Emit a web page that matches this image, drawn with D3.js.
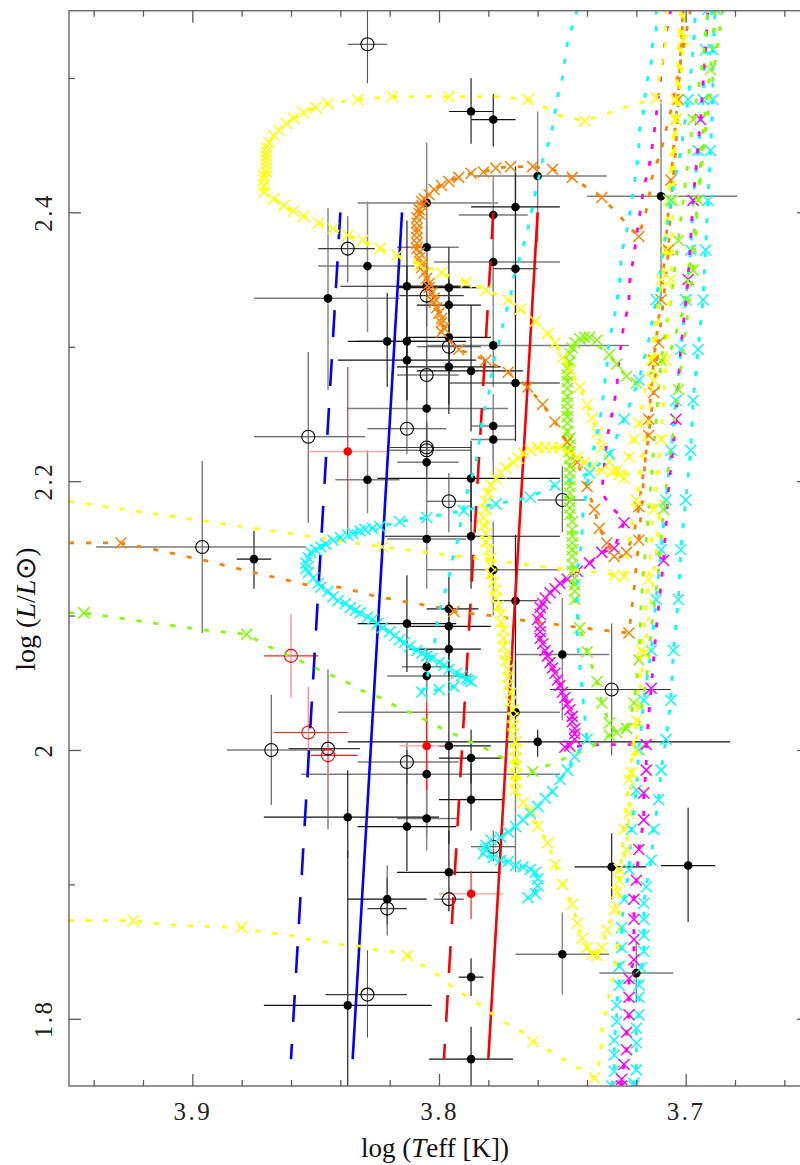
<!DOCTYPE html>
<html><head><meta charset="utf-8">
<script src="https://cdn.jsdelivr.net/npm/d3@7"></script>
<style>body{margin:0;background:#fff}</style>
</head><body>
<svg id="c" width="800" height="1165" xmlns="http://www.w3.org/2000/svg"></svg>
<script>
// ---------- axis ticks ----------
const xTicksMajor = [3.9, 3.8, 3.7];
const xTickLabels = ["3.9", "3.8", "3.7"];
const xTicksMinor = [3.94, 3.92, 3.88, 3.86, 3.84, 3.82, 3.78, 3.76, 3.74, 3.72, 3.68, 3.66];
const yTicksMajor = [1.8, 2.0, 2.2, 2.4];
const yTickLabels = ["1.8", "2", "2.2", "2.4"];
const yTicksMinor = [1.9, 2.1, 2.3, 2.5];

// ---------- stars: [logTeff, logL, Teff_hot, Teff_cool, L_low, L_high] ----------
const starsGrayErr = [
[3.760,2.427,3.786,3.732,2.378,2.475],[3.710,2.412,3.740,3.679,2.335,2.484],[3.805,2.407,3.833,3.776,2.361,2.452],
[3.778,2.398,3.792,3.764,2.342,2.427],[3.805,2.374,3.817,3.792,2.345,2.400],[3.829,2.360,3.849,3.810,2.311,2.408],
[3.778,2.363,3.802,3.751,2.330,2.390],[3.845,2.336,3.875,3.816,2.268,2.403],[3.805,2.345,3.817,3.792,2.300,2.390],
[3.778,2.301,3.805,3.723,2.270,2.330],[3.805,2.254,3.837,3.772,2.210,2.300],[3.778,2.241,3.787,3.769,2.215,2.265],
[3.778,2.231,3.787,3.769,2.205,2.255],[3.805,2.214,3.817,3.792,2.190,2.240],[3.829,2.201,3.842,3.816,2.176,2.223],
[3.805,2.157,3.821,3.789,2.120,2.200],[3.778,2.134,3.805,3.751,2.100,2.170],[3.750,2.071,3.769,3.731,2.022,2.113],
[3.805,2.062,3.815,3.795,2.045,2.075],[3.805,2.055,3.821,3.787,2.035,2.075],[3.769,2.028,3.841,3.751,1.909,2.067],
[3.805,1.982,3.856,3.751,1.935,2.030],[3.805,1.949,3.817,3.792,1.925,1.975],[3.750,1.848,3.769,3.731,1.818,1.879],
[3.720,1.834,3.735,3.705,1.812,1.857]
];
const starsBlackErr = [
[3.787,2.475,3.796,3.778,2.451,2.500],[3.778,2.469,3.787,3.769,2.449,2.488],[3.769,2.404,3.787,3.751,2.379,2.434],
[3.769,2.358,3.778,3.760,2.320,2.430],[3.813,2.345,3.840,3.787,2.290,2.394],[3.796,2.344,3.817,3.783,2.257,2.374],
[3.796,2.331,3.809,3.783,2.310,2.350],[3.821,2.304,3.837,3.805,2.270,2.340],[3.813,2.304,3.833,3.789,2.260,2.360],
[3.796,2.307,3.813,3.779,2.280,2.335],[3.813,2.290,3.841,3.785,2.260,2.320],[3.796,2.285,3.817,3.775,2.250,2.320],
[3.787,2.282,3.809,3.766,2.237,2.331],[3.769,2.273,3.796,3.751,2.230,2.330],[3.787,2.202,3.825,3.751,2.170,2.230],
[3.787,2.159,3.822,3.751,2.120,2.200],[3.875,2.142,3.882,3.868,2.120,2.163],[3.769,2.111,3.778,3.760,2.020,2.160],
[3.796,2.105,3.805,3.784,2.080,2.130],[3.813,2.094,3.833,3.793,2.058,2.130],[3.796,2.092,3.812,3.779,2.070,2.110],
[3.796,2.075,3.812,3.783,2.055,2.095],[3.760,2.006,3.837,3.682,1.995,2.015],[3.796,2.003,3.800,3.779,1.930,2.090],
[3.787,1.994,3.800,3.775,1.975,2.015],[3.787,1.963,3.800,3.774,1.940,1.990],[3.796,1.909,3.817,3.775,1.880,1.940],
[3.837,1.950,3.871,3.800,1.920,1.985],[3.813,1.943,3.833,3.793,1.910,2.000],[3.837,1.810,3.871,3.803,1.740,1.925],
[3.821,1.889,3.837,3.805,1.870,1.905],[3.787,1.831,3.792,3.782,1.817,1.845],[3.787,1.770,3.804,3.770,1.740,1.794],
[3.730,1.913,3.745,3.716,1.889,1.938],[3.699,1.914,3.710,3.688,1.872,1.957]
];
const starsOpen = [
[3.829,2.525,3.837,3.821,2.496,2.560],[3.837,2.373,3.849,3.826,2.348,2.397],[3.805,2.338,3.816,3.790,2.315,2.360],
[3.796,2.300,3.809,3.783,2.275,2.325],[3.805,2.279,3.817,3.792,2.255,2.300],[3.813,2.239,3.829,3.797,2.220,2.260],
[3.853,2.233,3.875,3.830,2.169,2.296],[3.805,2.225,3.820,3.787,2.205,2.245],[3.805,2.223,3.820,3.787,2.203,2.243],
[3.796,2.185,3.805,3.787,2.162,2.206],[3.750,2.186,3.760,3.741,2.162,2.211],[3.896,2.151,3.939,3.854,2.087,2.215],
[3.730,2.045,3.755,3.706,1.996,2.094],[3.868,2.000,3.886,3.844,1.959,2.041],[3.845,2.001,3.861,3.832,1.941,2.060],
[3.813,1.991,3.833,3.792,1.975,2.005],[3.778,1.928,3.787,3.769,1.917,1.940],[3.796,1.889,3.802,3.790,1.880,1.898],
[3.821,1.882,3.829,3.813,1.862,1.914],[3.829,1.818,3.846,3.813,1.786,1.851]
];
const starsRedFilled = [
[3.837,2.222,3.853,3.821,2.159,2.285],[3.805,2.003,3.816,3.794,1.970,2.035],[3.787,1.893,3.800,3.774,1.874,1.910]
];
const starsRedOpen = [
[3.860,2.070,3.871,3.849,2.039,2.101],[3.853,2.013,3.867,3.837,1.979,2.047],[3.845,1.996,3.852,3.833,1.973,2.018]
];

// ---------- instability strip edges ----------
const blueEdgeSolid = [[3.815,2.40],[3.835,1.77]];
const blueEdgeDashed = [[3.840,2.40],[3.860,1.77]];
const redEdgeSolid = [[3.760,2.40],[3.780,1.77]];
const redEdgeDashed = [[3.778,2.40],[3.798,1.77]];

// ---------- evolutionary tracks ----------
const yellowA_line = [[3.708,2.551],[3.708,2.528],[3.710,2.506],[3.712,2.487],[3.712,2.485],[3.723,2.479],[3.731,2.474],[3.741,2.468],[3.751,2.472],[3.757,2.478],[3.764,2.484],[3.777,2.486],[3.796,2.486],[3.819,2.486],[3.833,2.484],[3.845,2.481],[3.850,2.478],[3.855,2.474],[3.859,2.470],[3.862,2.466],[3.865,2.461],[3.867,2.457],[3.869,2.452],[3.870,2.446],[3.870,2.435],[3.871,2.424],[3.871,2.420],[3.871,2.415],[3.867,2.410],[3.863,2.405],[3.859,2.401],[3.855,2.397],[3.849,2.392],[3.843,2.388],[3.837,2.383],[3.831,2.379],[3.824,2.373],[3.817,2.368],[3.808,2.361],[3.799,2.355],[3.789,2.348],[3.781,2.342],[3.772,2.335],[3.767,2.328],[3.761,2.319],[3.756,2.310],[3.753,2.303],[3.750,2.292],[3.747,2.283],[3.743,2.270],[3.740,2.257],[3.738,2.247],[3.736,2.236],[3.734,2.225],[3.731,2.214],[3.728,2.208],[3.725,2.202],[3.723,2.218],[3.721,2.231],[3.719,2.243],[3.717,2.264],[3.714,2.290],[3.712,2.320],[3.710,2.350],[3.709,2.379],[3.707,2.409],[3.706,2.439],[3.704,2.469],[3.702,2.498],[3.701,2.528],[3.700,2.551]];
const yellowA_models = [[3.712,2.485],[3.741,2.468],[3.764,2.484],[3.796,2.486],[3.819,2.486],[3.833,2.484],[3.845,2.481],[3.850,2.478],[3.855,2.474],[3.859,2.470],[3.862,2.466],[3.865,2.461],[3.867,2.457],[3.869,2.452],[3.870,2.448],[3.870,2.445],[3.870,2.442],[3.870,2.439],[3.870,2.436],[3.870,2.433],[3.870,2.430],[3.871,2.427],[3.871,2.424],[3.871,2.420],[3.871,2.415],[3.867,2.410],[3.863,2.405],[3.859,2.401],[3.855,2.397],[3.849,2.392],[3.843,2.388],[3.837,2.383],[3.831,2.379],[3.824,2.373],[3.817,2.368],[3.808,2.361],[3.799,2.355],[3.789,2.348],[3.781,2.342],[3.772,2.335],[3.767,2.328],[3.761,2.319],[3.756,2.310],[3.753,2.303],[3.750,2.292],[3.747,2.283],[3.743,2.270],[3.740,2.257],[3.738,2.247],[3.736,2.236],[3.734,2.225],[3.731,2.214],[3.728,2.208],[3.725,2.202],[3.723,2.218],[3.721,2.231],[3.719,2.243],[3.714,2.290],[3.710,2.350],[3.707,2.409],[3.704,2.469],[3.701,2.528]];

const yellowB_line = [[3.950,2.185],[3.894,2.170],[3.823,2.151],[3.778,2.141],[3.756,2.136],[3.736,2.132],[3.725,2.129],[3.723,2.156],[3.720,2.186],[3.718,2.216],[3.715,2.246],[3.713,2.275],[3.712,2.305],[3.710,2.335],[3.708,2.372],[3.707,2.409],[3.705,2.446],[3.704,2.484],[3.702,2.521],[3.701,2.551]];
const yellowB_models = [[3.823,2.151],[3.729,2.130],[3.725,2.129],[3.720,2.186],[3.713,2.275],[3.708,2.372],[3.704,2.484]];

const yellowC_line = [[3.727,2.205],[3.734,2.208],[3.738,2.211],[3.741,2.214],[3.744,2.218],[3.751,2.225],[3.755,2.225],[3.759,2.225],[3.763,2.223],[3.767,2.218],[3.771,2.212],[3.775,2.206],[3.779,2.197],[3.781,2.188],[3.781,2.179],[3.781,2.166],[3.781,2.151],[3.780,2.136],[3.779,2.121],[3.777,2.112],[3.776,2.104],[3.774,2.089],[3.773,2.074],[3.772,2.060],[3.771,2.045],[3.770,2.030],[3.770,2.015],[3.769,2.002],[3.769,1.985],[3.769,1.970],[3.768,1.965],[3.766,1.961],[3.763,1.955],[3.760,1.943],[3.756,1.931],[3.753,1.915],[3.750,1.900],[3.746,1.885],[3.744,1.871],[3.742,1.860],[3.740,1.853],[3.738,1.848],[3.736,1.847],[3.734,1.853],[3.732,1.866],[3.729,1.881],[3.728,1.894],[3.727,1.911],[3.724,1.926],[3.723,1.953],[3.722,1.983],[3.720,2.000],[3.719,2.037],[3.717,2.072],[3.714,2.112],[3.712,2.149],[3.710,2.186]];
const yellowC_models = [[3.727,2.205],[3.730,2.207],[3.734,2.208],[3.738,2.211],[3.741,2.214],[3.744,2.218],[3.748,2.222],[3.751,2.225],[3.754,2.225],[3.757,2.225],[3.760,2.225],[3.763,2.223],[3.766,2.221],[3.768,2.217],[3.770,2.214],[3.773,2.210],[3.775,2.206],[3.777,2.202],[3.779,2.197],[3.780,2.191],[3.781,2.185],[3.781,2.179],[3.782,2.173],[3.782,2.167],[3.781,2.161],[3.781,2.155],[3.780,2.149],[3.779,2.143],[3.779,2.137],[3.779,2.131],[3.778,2.125],[3.777,2.119],[3.777,2.113],[3.776,2.107],[3.775,2.101],[3.775,2.095],[3.774,2.089],[3.774,2.083],[3.774,2.077],[3.773,2.071],[3.773,2.066],[3.772,2.060],[3.772,2.054],[3.772,2.048],[3.771,2.042],[3.771,2.036],[3.770,2.030],[3.770,2.024],[3.770,2.018],[3.770,2.012],[3.769,2.006],[3.769,2.000],[3.769,1.994],[3.769,1.988],[3.769,1.982],[3.769,1.976],[3.769,1.970],[3.766,1.961],[3.763,1.955],[3.760,1.943],[3.756,1.931],[3.753,1.915],[3.750,1.900],[3.746,1.885],[3.744,1.871],[3.742,1.860],[3.740,1.853],[3.738,1.848],[3.736,1.847],[3.734,1.853],[3.732,1.866],[3.729,1.881],[3.728,1.894],[3.727,1.911],[3.724,1.926],[3.723,1.953],[3.722,1.983],[3.720,2.000],[3.717,2.072]];

const yellowD_line = [[3.950,1.873],[3.924,1.873],[3.915,1.871],[3.901,1.869],[3.880,1.868],[3.873,1.865],[3.860,1.862],[3.853,1.859],[3.846,1.857],[3.839,1.855],[3.832,1.854],[3.825,1.851],[3.819,1.850],[3.813,1.847],[3.806,1.839],[3.800,1.832],[3.795,1.824],[3.789,1.817],[3.783,1.810],[3.778,1.803],[3.772,1.796],[3.766,1.790],[3.762,1.783],[3.754,1.775],[3.748,1.768],[3.742,1.762],[3.737,1.756],[3.735,1.769],[3.734,1.782],[3.734,1.794],[3.732,1.808],[3.731,1.820],[3.729,1.834],[3.728,1.846],[3.727,1.871],[3.727,1.903],[3.725,1.941],[3.723,1.978],[3.720,2.022],[3.718,2.074],[3.715,2.127],[3.713,2.179],[3.710,2.231],[3.708,2.290],[3.706,2.350],[3.705,2.409],[3.704,2.469],[3.703,2.521],[3.702,2.551]];
const yellowD_models = [[3.924,1.873],[3.880,1.868],[3.813,1.847],[3.762,1.783],[3.737,1.756],[3.727,1.903],[3.725,1.941],[3.723,1.978],[3.720,2.022],[3.718,2.074],[3.715,2.127],[3.713,2.179],[3.710,2.231],[3.708,2.290],[3.706,2.350],[3.705,2.409],[3.704,2.469]];

const orangeA_line = [[3.950,2.154],[3.929,2.154],[3.915,2.149],[3.895,2.141],[3.875,2.132],[3.854,2.123],[3.840,2.121],[3.827,2.115],[3.813,2.110],[3.800,2.106],[3.794,2.103],[3.779,2.100],[3.764,2.096],[3.751,2.093],[3.738,2.090],[3.723,2.087],[3.721,2.119],[3.719,2.156],[3.717,2.201],[3.715,2.246],[3.713,2.290],[3.710,2.335],[3.708,2.379],[3.706,2.424],[3.704,2.469],[3.702,2.513],[3.701,2.551]];
const orangeA_models = [[3.929,2.154],[3.794,2.103],[3.723,2.087],[3.719,2.156],[3.715,2.246],[3.713,2.290],[3.710,2.335],[3.706,2.424],[3.704,2.469]];

const orangeB_line = [[3.698,2.551],[3.702,2.513],[3.706,2.476],[3.710,2.446],[3.714,2.424],[3.715,2.408],[3.719,2.382],[3.723,2.389],[3.727,2.398],[3.734,2.411],[3.739,2.417],[3.746,2.426],[3.754,2.432],[3.762,2.434],[3.771,2.434],[3.777,2.433],[3.782,2.430],[3.787,2.429],[3.792,2.426],[3.796,2.423],[3.799,2.420],[3.802,2.417],[3.804,2.413],[3.806,2.410],[3.807,2.405],[3.808,2.400],[3.809,2.392],[3.809,2.385],[3.809,2.377],[3.808,2.368],[3.807,2.361],[3.805,2.353],[3.804,2.346],[3.803,2.340],[3.801,2.333],[3.800,2.325],[3.799,2.318],[3.798,2.312],[3.796,2.305],[3.792,2.298],[3.781,2.290],[3.772,2.281],[3.764,2.270],[3.758,2.257],[3.753,2.244],[3.748,2.229],[3.744,2.214],[3.740,2.196],[3.737,2.179],[3.735,2.165],[3.732,2.154],[3.729,2.144],[3.727,2.143],[3.724,2.147],[3.721,2.161],[3.719,2.181],[3.717,2.208],[3.715,2.234],[3.713,2.266],[3.711,2.303],[3.709,2.335],[3.707,2.372],[3.706,2.409],[3.704,2.446],[3.703,2.484],[3.702,2.521],[3.701,2.551]];
const orangeB_models = [[3.719,2.382],[3.734,2.411],[3.746,2.426],[3.754,2.432],[3.762,2.434],[3.771,2.434],[3.777,2.433],[3.782,2.430],[3.787,2.429],[3.792,2.426],[3.796,2.423],[3.799,2.420],[3.802,2.417],[3.804,2.413],[3.806,2.410],[3.807,2.408],[3.807,2.405],[3.808,2.402],[3.808,2.399],[3.809,2.396],[3.809,2.392],[3.809,2.388],[3.809,2.385],[3.809,2.381],[3.809,2.377],[3.809,2.373],[3.808,2.370],[3.808,2.366],[3.807,2.362],[3.807,2.359],[3.806,2.355],[3.805,2.351],[3.804,2.347],[3.804,2.344],[3.803,2.340],[3.802,2.336],[3.802,2.333],[3.801,2.329],[3.800,2.325],[3.799,2.321],[3.799,2.318],[3.798,2.314],[3.799,2.311],[3.792,2.298],[3.781,2.290],[3.772,2.281],[3.764,2.270],[3.758,2.257],[3.753,2.244],[3.748,2.229],[3.744,2.214],[3.740,2.196],[3.737,2.179],[3.735,2.165],[3.732,2.154],[3.729,2.144],[3.724,2.147],[3.719,2.181],[3.715,2.234],[3.713,2.266],[3.711,2.303],[3.707,2.372],[3.703,2.484]];

const greenA_line = [[3.950,2.102],[3.944,2.102],[3.922,2.096],[3.894,2.089],[3.878,2.086],[3.874,2.082],[3.869,2.077],[3.862,2.071],[3.856,2.066],[3.849,2.060],[3.843,2.055],[3.837,2.050],[3.831,2.044],[3.824,2.039],[3.818,2.033],[3.812,2.028],[3.805,2.022],[3.799,2.016],[3.793,2.011],[3.786,2.005],[3.780,2.000],[3.774,1.994],[3.768,1.989],[3.762,1.984],[3.754,1.990],[3.742,1.999],[3.736,2.005],[3.731,2.011],[3.724,2.016],[3.719,2.019],[3.716,2.052],[3.714,2.089],[3.711,2.134],[3.709,2.179],[3.706,2.223],[3.703,2.268],[3.700,2.313],[3.697,2.357],[3.695,2.409],[3.693,2.461],[3.690,2.506],[3.688,2.551]];
const greenA_models = [[3.944,2.102],[3.878,2.086],[3.762,1.984],[3.731,2.011],[3.724,2.016],[3.709,2.179],[3.703,2.268],[3.697,2.357],[3.695,2.409],[3.690,2.506]];

const greenB_line = [[3.685,2.551],[3.688,2.513],[3.692,2.461],[3.695,2.409],[3.698,2.365],[3.701,2.327],[3.706,2.298],[3.712,2.283],[3.720,2.273],[3.724,2.278],[3.728,2.287],[3.731,2.294],[3.735,2.300],[3.739,2.305],[3.742,2.307],[3.744,2.304],[3.746,2.298],[3.747,2.290],[3.748,2.279],[3.748,2.253],[3.748,2.237],[3.747,2.211],[3.747,2.185],[3.746,2.159],[3.746,2.138],[3.745,2.112],[3.743,2.091],[3.740,2.073],[3.736,2.051],[3.734,2.035],[3.731,2.020],[3.728,2.013],[3.724,2.016],[3.721,2.035],[3.719,2.067],[3.718,2.112],[3.716,2.156],[3.714,2.201],[3.712,2.246],[3.710,2.290],[3.706,2.335],[3.703,2.379],[3.700,2.424],[3.697,2.469],[3.693,2.513],[3.691,2.551]];
const greenB_models = [[3.720,2.273],[3.724,2.278],[3.728,2.287],[3.731,2.294],[3.736,2.305],[3.739,2.307],[3.741,2.307],[3.743,2.306],[3.745,2.303],[3.746,2.299],[3.747,2.295],[3.747,2.289],[3.748,2.284],[3.748,2.279],[3.748,2.274],[3.748,2.269],[3.748,2.263],[3.748,2.258],[3.748,2.253],[3.748,2.248],[3.748,2.243],[3.748,2.237],[3.747,2.232],[3.747,2.227],[3.747,2.222],[3.747,2.217],[3.747,2.211],[3.747,2.206],[3.747,2.201],[3.747,2.196],[3.747,2.191],[3.747,2.185],[3.747,2.180],[3.747,2.175],[3.746,2.170],[3.746,2.164],[3.746,2.159],[3.746,2.154],[3.746,2.149],[3.746,2.144],[3.746,2.138],[3.746,2.133],[3.745,2.128],[3.745,2.123],[3.745,2.118],[3.745,2.112],[3.743,2.091],[3.740,2.073],[3.736,2.051],[3.734,2.035],[3.731,2.020],[3.728,2.013],[3.724,2.016],[3.721,2.035],[3.719,2.067],[3.710,2.290],[3.703,2.379],[3.697,2.469]];

const cyanA_descent = [[3.744,2.551],[3.748,2.526],[3.750,2.500],[3.752,2.486],[3.754,2.463],[3.756,2.450],[3.758,2.439],[3.761,2.414],[3.764,2.388],[3.766,2.374],[3.768,2.362],[3.770,2.350],[3.771,2.337],[3.773,2.325],[3.776,2.301],[3.778,2.288],[3.779,2.275],[3.780,2.263],[3.782,2.251],[3.784,2.226],[3.785,2.214],[3.787,2.201],[3.789,2.190],[3.791,2.171],[3.793,2.151],[3.795,2.139],[3.796,2.128],[3.798,2.115],[3.800,2.103],[3.801,2.091],[3.802,2.077],[3.804,2.063],[3.805,2.051]];
const cyanA_hook = [[3.807,2.043],[3.800,2.045],[3.794,2.047],[3.788,2.052]];
const cyanA_loop = [[3.787,2.051],[3.789,2.053],[3.791,2.055],[3.793,2.057],[3.796,2.060],[3.798,2.063],[3.800,2.065],[3.803,2.068],[3.805,2.070],[3.807,2.072],[3.809,2.074],[3.812,2.077],[3.814,2.080],[3.816,2.082],[3.818,2.085],[3.820,2.088],[3.823,2.091],[3.825,2.094],[3.827,2.097],[3.829,2.099],[3.832,2.102],[3.834,2.104],[3.836,2.106],[3.838,2.109],[3.841,2.111],[3.843,2.114],[3.845,2.118],[3.848,2.121],[3.849,2.124],[3.851,2.128],[3.853,2.132],[3.854,2.135],[3.854,2.139],[3.853,2.143],[3.852,2.147],[3.850,2.149],[3.848,2.151],[3.846,2.153],[3.843,2.156],[3.840,2.158],[3.837,2.160],[3.835,2.161],[3.832,2.163],[3.830,2.164],[3.827,2.165],[3.824,2.166],[3.816,2.170],[3.805,2.173],[3.790,2.178],[3.777,2.183],[3.763,2.188],[3.753,2.197],[3.739,2.206]];
const cyanA_agb = [[3.731,2.220],[3.725,2.246],[3.719,2.275],[3.715,2.305],[3.712,2.335],[3.709,2.372],[3.706,2.409],[3.702,2.446],[3.699,2.484],[3.697,2.521],[3.696,2.551]];
const cyanA_agbModels = [[3.731,2.220],[3.725,2.246],[3.719,2.275],[3.712,2.335],[3.706,2.409],[3.699,2.484]];

const cyanB_descent = [[3.712,2.551],[3.712,2.534],[3.714,2.521],[3.714,2.508],[3.716,2.496],[3.717,2.476],[3.719,2.459],[3.719,2.445],[3.721,2.419],[3.723,2.396],[3.724,2.385],[3.726,2.370],[3.727,2.344],[3.728,2.333],[3.729,2.322],[3.731,2.305],[3.732,2.285],[3.733,2.270],[3.734,2.255],[3.735,2.243],[3.737,2.227],[3.739,2.212],[3.740,2.196],[3.742,2.171],[3.742,2.156],[3.744,2.134],[3.744,2.112],[3.744,2.082],[3.742,2.045],[3.740,2.008]];
const cyanB_loop = [[3.740,2.008],[3.745,1.995],[3.748,1.985],[3.751,1.978],[3.754,1.969],[3.757,1.964],[3.760,1.958],[3.763,1.953],[3.766,1.948],[3.769,1.943],[3.772,1.939],[3.775,1.935],[3.779,1.933],[3.781,1.929],[3.781,1.926],[3.782,1.923],[3.778,1.920],[3.775,1.918],[3.772,1.917],[3.769,1.914],[3.766,1.913],[3.763,1.911],[3.761,1.909],[3.760,1.904],[3.760,1.899],[3.761,1.893],[3.764,1.890]];

const cyanC_line = [[3.730,1.750],[3.729,1.761],[3.729,1.773],[3.729,1.784],[3.728,1.798],[3.728,1.810],[3.727,1.825],[3.727,1.839],[3.726,1.853],[3.726,1.868],[3.725,1.889],[3.723,1.911],[3.722,1.941],[3.720,1.970],[3.719,2.000],[3.717,2.037],[3.714,2.074],[3.712,2.112],[3.710,2.149],[3.708,2.186],[3.706,2.223],[3.704,2.260],[3.702,2.298],[3.700,2.335],[3.698,2.372],[3.697,2.409],[3.695,2.446],[3.693,2.484],[3.692,2.521],[3.691,2.551]];
const cyanD_line = [[3.721,1.750],[3.721,1.752],[3.720,1.762],[3.720,1.782],[3.720,1.793],[3.719,1.803],[3.719,1.816],[3.719,1.825],[3.718,1.838],[3.717,1.850],[3.717,1.862],[3.717,1.874],[3.717,1.886],[3.716,1.898],[3.714,1.918],[3.713,1.941],[3.711,1.963],[3.710,1.985],[3.708,2.008],[3.706,2.037],[3.705,2.074],[3.703,2.112],[3.702,2.149],[3.700,2.186],[3.698,2.223],[3.697,2.260],[3.695,2.298],[3.693,2.335],[3.692,2.372],[3.691,2.409],[3.690,2.446],[3.689,2.484],[3.689,2.521],[3.688,2.551]];

const magentaA_descent = [[3.706,2.551],[3.708,2.533],[3.709,2.517],[3.711,2.487],[3.713,2.456],[3.715,2.432],[3.717,2.419],[3.719,2.394],[3.721,2.368],[3.723,2.345],[3.723,2.331],[3.725,2.318],[3.727,2.290],[3.728,2.268],[3.730,2.249],[3.732,2.231],[3.733,2.212],[3.734,2.192],[3.731,2.182],[3.727,2.175]];
const magentaA_loop = [[3.725,2.169],[3.729,2.150],[3.734,2.147],[3.739,2.139],[3.744,2.133],[3.748,2.127],[3.751,2.124],[3.753,2.120],[3.755,2.117],[3.757,2.113],[3.758,2.109],[3.759,2.106],[3.759,2.101],[3.760,2.097],[3.759,2.092],[3.759,2.088],[3.759,2.083],[3.758,2.079],[3.757,2.074],[3.756,2.070],[3.755,2.065],[3.754,2.061],[3.753,2.057],[3.752,2.052],[3.751,2.048],[3.750,2.043],[3.749,2.039],[3.748,2.034],[3.747,2.030],[3.746,2.025],[3.746,2.021],[3.745,2.016],[3.745,2.012],[3.745,2.008],[3.747,2.003],[3.749,2.002]];
const magentaA_agb = [[3.735,2.004],[3.723,2.004],[3.716,2.004],[3.714,2.046],[3.712,2.089],[3.709,2.141],[3.707,2.193],[3.704,2.246],[3.702,2.298],[3.699,2.350],[3.697,2.409],[3.694,2.469],[3.692,2.521],[3.691,2.551]];
const magentaA_agbModels = [[3.714,2.046],[3.709,2.141],[3.704,2.246],[3.699,2.350],[3.697,2.409],[3.694,2.469]];
const magentaB_line = [[3.726,1.750],[3.726,1.755],[3.725,1.766],[3.724,1.777],[3.724,1.790],[3.723,1.803],[3.723,1.816],[3.723,1.830],[3.721,1.844],[3.721,1.859],[3.721,1.874],[3.721,1.889],[3.720,1.903],[3.719,1.926],[3.717,1.948],[3.717,1.968],[3.716,1.985],[3.716,2.004]];

const trackColors = {yellow:"#ffff00", orange:"#ff8000", green:"#80ff00", cyan:"#00ffff", magenta:"#ff00ff"};

// table of tracks built from the arrays above
const tracks = [
  {c:"cyan", line:cyanC_line, models:cyanC_line},
  {c:"cyan", line:cyanD_line, models:cyanD_line},
  {c:"magenta", line:magentaB_line, models:magentaB_line},
  {c:"magenta", line:magentaA_descent.concat(magentaA_loop, magentaA_agb), models:magentaA_loop.concat(magentaA_agbModels)},
  {c:"green", line:greenA_line, models:greenA_models},
  {c:"green", line:greenB_line, models:greenB_models},
  {c:"orange", line:orangeA_line, models:orangeA_models},
  {c:"orange", line:orangeB_line, models:orangeB_models},
  {c:"yellow", line:yellowD_line, models:yellowD_models},
  {c:"yellow", line:yellowB_line, models:yellowB_models},
  {c:"yellow", line:yellowC_line, models:yellowC_models},
  {c:"yellow", line:yellowA_line, models:yellowA_models},
  {c:"cyan", line:cyanB_descent.concat(cyanB_loop), models:cyanB_loop},
  {c:"cyan", line:cyanA_descent.concat(cyanA_hook, cyanA_loop, cyanA_agb), models:cyanA_hook.concat(cyanA_loop, cyanA_agbModels)}
];

// ---------- drawing ----------
const L = 69, R = 809, T = 10.7, B = 1086;
const x = d3.scaleLinear().domain([3.95, 3.65]).range([L, R]);
const y = d3.scaleLinear().domain([1.75, 2.55]).range([B, T]);
const svg = d3.select("#c");
svg.append("defs").append("clipPath").attr("id", "clip")
  .append("rect").attr("x", L).attr("y", T).attr("width", R - L).attr("height", B - T);
const plot = svg.append("g").attr("clip-path", "url(#clip)");

function errBars(data, hcol, vcol, w) {
  const g = plot.append("g").attr("fill", "none").attr("stroke-width", w);
  g.selectAll("line.h").data(data).join("line").attr("class", "h").attr("stroke", hcol)
    .attr("x1", d => x(d[2])).attr("x2", d => x(d[3])).attr("y1", d => y(d[1])).attr("y2", d => y(d[1]));
  g.selectAll("line.v").data(data).join("line").attr("class", "v").attr("stroke", vcol)
    .attr("x1", d => x(d[0])).attr("x2", d => x(d[0])).attr("y1", d => y(d[4])).attr("y2", d => y(d[5]));
}
errBars(starsGrayErr, "#7d7d7d", "#8a8a8a", 1.5);
errBars(starsBlackErr, "#111", "#222", 1.2);
errBars(starsOpen, "#3a3a3a", "#555", 1.1);
errBars(starsRedFilled, "#ff9a9a", "#ff2020", 1.2);
errBars(starsRedOpen, "#ff2020", "#ff8080", 1.2);

plot.append("g").selectAll("circle").data(starsGrayErr.concat(starsBlackErr)).join("circle")
  .attr("cx", d => x(d[0])).attr("cy", d => y(d[1])).attr("r", 4.3).attr("fill", "#000");
plot.append("g").selectAll("circle").data(starsOpen).join("circle")
  .attr("cx", d => x(d[0])).attr("cy", d => y(d[1])).attr("r", 6.5).attr("fill", "none").attr("stroke", "#000").attr("stroke-width", 1.1);
plot.append("g").selectAll("circle").data(starsRedFilled).join("circle")
  .attr("cx", d => x(d[0])).attr("cy", d => y(d[1])).attr("r", 4.3).attr("fill", "#ff0000");
plot.append("g").selectAll("circle").data(starsRedOpen).join("circle")
  .attr("cx", d => x(d[0])).attr("cy", d => y(d[1])).attr("r", 6.5).attr("fill", "none").attr("stroke", "#ff0000").attr("stroke-width", 1.1);

const line = d3.line().x(d => x(d[0])).y(d => y(d[1]));
[[blueEdgeSolid, "#0000ff", null], [blueEdgeDashed, "#0000ff", "27,22"],
 [redEdgeSolid, "#ff0000", null], [redEdgeDashed, "#ff0000", "27,22"]].forEach(([d, c, dash]) => {
  plot.append("path").attr("d", line(d)).attr("fill", "none").attr("stroke", c)
    .attr("stroke-width", 2.6).attr("stroke-dasharray", dash);
});

const cross = "M-5.5,-5.5L5.5,5.5M-5.5,5.5L5.5,-5.5";
tracks.forEach(t => {
  const col = trackColors[t.c];
  plot.append("path").attr("d", line(t.line)).attr("fill", "none").attr("stroke", col)
    .attr("stroke-width", 2.8).attr("stroke-dasharray", "5,12");
  plot.append("g").selectAll("path").data(t.models).join("path")
    .attr("d", cross).attr("transform", d => `translate(${x(d[0])},${y(d[1])})`)
    .attr("fill", "none").attr("stroke", col).attr("stroke-width", 1.45);
});

// ---------- axes ----------
const axCol = "#5a5a5a";
svg.append("rect").attr("x", L).attr("y", T).attr("width", R - L).attr("height", B - T)
  .attr("fill", "none").attr("stroke", "#6e6e6e").attr("stroke-width", 1.5);
function styleAx(g) { g.select(".domain").remove(); g.selectAll(".tick line").attr("stroke", axCol).attr("stroke-width", 1.3); }
svg.append("g").attr("transform", `translate(0,${B})`)
  .call(d3.axisBottom(x).tickValues(xTicksMajor).tickSize(-12).tickPadding(16).tickFormat((d, i) => xTickLabels[i]))
  .call(styleAx).call(g => g.selectAll("text").attr("font-family", "Liberation Serif, serif").attr("font-size", 25).attr("letter-spacing", 2.5).attr("fill", "#222"));
svg.append("g").attr("transform", `translate(0,${B})`).call(d3.axisBottom(x).tickValues(xTicksMinor).tickSize(-6).tickFormat("")).call(styleAx);
svg.append("g").attr("transform", `translate(0,${T})`).call(d3.axisTop(x).tickValues(xTicksMajor).tickSize(-12).tickFormat("")).call(styleAx);
svg.append("g").attr("transform", `translate(0,${T})`).call(d3.axisTop(x).tickValues(xTicksMinor).tickSize(-6).tickFormat("")).call(styleAx);
svg.append("g").attr("transform", `translate(${L},0)`).call(d3.axisLeft(y).tickValues(yTicksMajor).tickSize(-12).tickFormat("")).call(styleAx);
svg.append("g").attr("transform", `translate(${L},0)`).call(d3.axisLeft(y).tickValues(yTicksMinor).tickSize(-6).tickFormat("")).call(styleAx);
svg.append("g").attr("transform", `translate(${R},0)`).call(d3.axisRight(y).tickValues(yTicksMajor).tickSize(-12).tickFormat("")).call(styleAx);
svg.append("g").attr("transform", `translate(${R},0)`).call(d3.axisRight(y).tickValues(yTicksMinor).tickSize(-6).tickFormat("")).call(styleAx);

svg.append("g").selectAll("text").data(yTicksMajor).join("text")
  .attr("transform", d => `translate(52,${y(d)}) rotate(-90)`).attr("text-anchor", "middle")
  .attr("font-family", "Liberation Serif, serif").attr("font-size", 25).attr("letter-spacing", 2.5).attr("fill", "#222")
  .text((d, i) => yTickLabels[i]);

const yt = svg.append("text").attr("transform", "translate(35,609) rotate(-90)").attr("text-anchor", "middle")
  .attr("font-family", "Liberation Serif, serif").attr("font-size", 28).attr("fill", "#111");
yt.append("tspan").text("log (");
yt.append("tspan").attr("font-style", "italic").text("L");
yt.append("tspan").text("/");
yt.append("tspan").attr("font-style", "italic").text("L");
yt.append("tspan").text("⊙)");

const xt = svg.append("text").attr("x", 435).attr("y", 1157).attr("text-anchor", "middle")
  .attr("font-family", "Liberation Serif, serif").attr("font-size", 27).attr("fill", "#111");
xt.append("tspan").text("log (");
xt.append("tspan").attr("font-style", "italic").text("T");
xt.append("tspan").text("eff [K])");
</script>
</body></html>
